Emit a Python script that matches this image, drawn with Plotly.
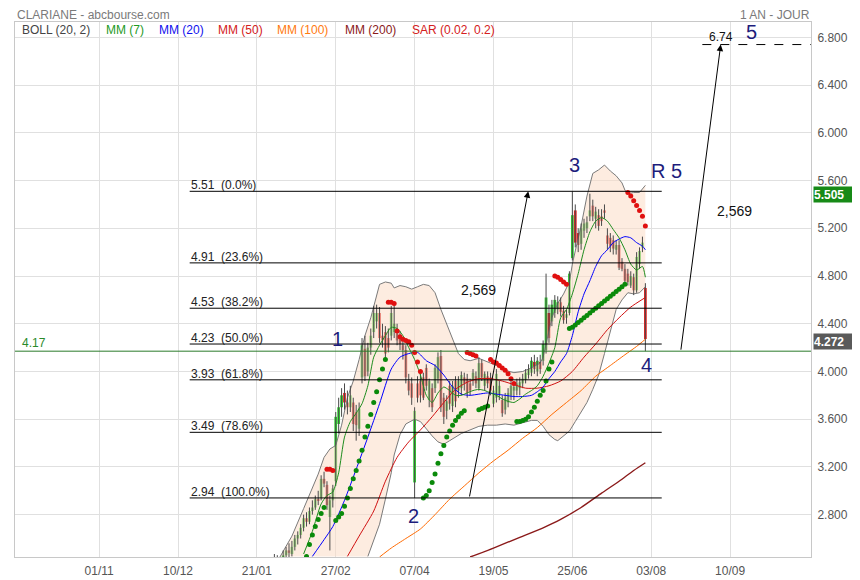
import plotly.graph_objects as go

# ---------------- data (trading-day index, 01/11 = day 0) ----------------
day = list(range(57, 188))

open_ = [2.18, 2.24, 2.30, 2.34, 2.41, 2.38, 2.43, 2.46, 2.50, 2.47,
         2.53, 2.60, 2.63, 2.69, 2.77, 2.74, 2.83, 2.86, 2.93, 2.94,
         3.10, 3.05, 2.78, 2.92, 3.08, 3.56, 3.70, 3.82, 3.74, 3.70,
         3.74, 3.66, 3.52, 3.95, 4.19, 4.00, 4.20, 4.33, 4.42, 4.49,
         4.30, 4.33, 4.28, 4.30, 4.33, 4.32, 4.30, 4.22, 4.18, 3.92,
         3.90, 3.07, 3.90, 3.92, 3.95, 4.03, 3.76, 3.86, 3.86, 3.94,
         4.13, 3.78, 3.67, 3.88, 3.71, 3.92, 3.84, 3.86, 3.95, 3.94,
         3.90, 3.93, 3.96, 3.86, 4.07, 3.88, 3.96, 3.95, 3.73, 3.78,
         3.80, 3.76, 3.68, 3.74, 3.80, 3.84, 3.84, 3.86, 3.90, 3.93,
         3.97, 3.99, 4.08, 4.00, 4.08, 4.09, 4.18, 4.49, 4.42, 4.49,
         4.52, 4.58, 4.51, 4.45, 4.49, 4.95, 5.35, 5.16, 5.07, 5.18,
         5.20, 5.30, 5.39, 5.28, 5.31, 5.30, 5.35, 5.14, 5.12, 5.10,
         5.02, 5.06, 4.92, 4.86, 4.82, 4.72, 4.79, 4.68, 4.90, 5.04, 4.70]

high_ = [2.27, 2.33, 2.38, 2.47, 2.46, 2.45, 2.50, 2.53, 2.56, 2.58,
         2.63, 2.66, 2.72, 2.80, 2.82, 2.86, 2.92, 2.96, 3.00, 3.13,
         3.16, 3.08, 2.96, 3.05, 3.66, 3.78, 3.86, 3.90, 3.84, 3.88,
         3.78, 3.72, 3.74, 4.28, 4.30, 4.24, 4.36, 4.55, 4.56, 4.54,
         4.40, 4.38, 4.36, 4.55, 4.56, 4.40, 4.34, 4.28, 4.22, 3.98,
         3.95, 3.70, 3.96, 4.00, 3.99, 4.06, 3.94, 3.90, 4.06, 4.16,
         4.18, 3.82, 3.80, 3.92, 3.92, 3.96, 3.96, 4.00, 3.99, 3.98,
         3.94, 4.02, 4.00, 4.12, 4.10, 4.00, 4.00, 3.99, 3.88, 4.02,
         3.92, 3.80, 3.82, 3.86, 3.92, 3.89, 3.94, 3.95, 3.98, 4.02,
         4.06, 4.12, 4.14, 4.12, 4.14, 4.26, 4.82, 4.56, 4.60, 4.64,
         4.63, 4.62, 4.55, 4.52, 4.84, 5.51, 5.40, 5.20, 5.24, 5.28,
         5.30, 5.49, 5.44, 5.38, 5.36, 5.36, 5.40, 5.20, 5.16, 5.14,
         5.10, 5.10, 4.95, 4.90, 4.86, 4.84, 4.82, 5.00, 5.04, 5.13, 4.74]

low_ = [2.15, 2.21, 2.26, 2.31, 2.35, 2.34, 2.40, 2.42, 2.44, 2.45,
        2.50, 2.55, 2.60, 2.66, 2.70, 2.72, 2.80, 2.84, 2.88, 2.92,
        3.03, 2.84, 2.50, 2.86, 3.04, 3.48, 3.62, 3.68, 3.64, 3.66,
        3.50, 3.42, 3.46, 3.90, 3.92, 3.96, 4.14, 4.28, 4.36, 4.24,
        4.20, 4.10, 4.16, 4.26, 4.28, 4.22, 4.18, 4.10, 3.90, 3.80,
        3.72, 2.94, 3.74, 3.74, 3.76, 3.84, 3.70, 3.66, 3.82, 3.90,
        3.66, 3.56, 3.60, 3.68, 3.66, 3.70, 3.78, 3.80, 3.84, 3.78,
        3.80, 3.88, 3.86, 3.84, 3.92, 3.84, 3.86, 3.80, 3.70, 3.74,
        3.76, 3.62, 3.64, 3.70, 3.76, 3.76, 3.80, 3.80, 3.86, 3.90,
        3.94, 3.96, 3.98, 3.96, 3.98, 4.05, 4.15, 4.24, 4.38, 4.45,
        4.48, 4.46, 4.40, 4.40, 4.47, 4.93, 5.04, 5.00, 5.02, 5.12,
        5.16, 5.26, 5.26, 5.20, 5.18, 5.22, 5.28, 5.02, 5.00, 4.98,
        4.98, 4.85, 4.84, 4.74, 4.72, 4.70, 4.64, 4.66, 4.86, 5.00, 4.17]

close_ = [2.24, 2.30, 2.34, 2.41, 2.38, 2.43, 2.46, 2.50, 2.48, 2.53,
          2.60, 2.63, 2.69, 2.77, 2.74, 2.83, 2.86, 2.93, 2.92, 3.10,
          3.06, 2.88, 2.92, 3.02, 3.62, 3.70, 3.80, 3.74, 3.70, 3.80,
          3.56, 3.55, 3.69, 4.22, 3.96, 4.20, 4.30, 4.49, 4.49, 4.28,
          4.26, 4.15, 4.20, 4.49, 4.40, 4.26, 4.23, 4.18, 3.95, 3.84,
          3.78, 3.67, 3.78, 3.80, 3.78, 3.88, 3.92, 3.70, 4.03, 4.12,
          3.70, 3.62, 3.75, 3.73, 3.88, 3.75, 3.92, 3.97, 3.90, 3.82,
          3.84, 3.99, 3.90, 4.07, 3.95, 3.98, 3.90, 3.84, 3.84, 3.98,
          3.88, 3.65, 3.78, 3.82, 3.88, 3.87, 3.90, 3.91, 3.94, 3.99,
          4.02, 4.09, 4.02, 4.09, 4.02, 4.23, 4.62, 4.28, 4.56, 4.60,
          4.58, 4.50, 4.43, 4.48, 4.82, 5.31, 5.08, 5.06, 5.20, 5.24,
          5.25, 5.35, 5.30, 5.34, 5.22, 5.26, 5.33, 5.07, 5.05, 5.03,
          5.06, 4.87, 4.86, 4.76, 4.75, 4.80, 4.68, 4.96, 5.01, 5.08, 4.272]

# Parabolic SAR (0.02, 0.2), one value per day (None = off chart)
sar = [None] * 14 + [
    2.45, 2.55, 2.63, 2.70, 2.76, 2.81, 2.86,
    3.18, 3.18, 3.17,
    2.75, 2.78, 2.81, 2.87, 2.94, 3.02, 3.10, 3.17, 3.25, 3.34, 3.45, 3.54,
    3.64, 3.74, 3.83, 3.93, 4.02, 4.10,
    4.58, 4.58, 4.57, 4.34, 4.29, 4.27, 4.26, 4.25, 4.22, 4.16, 4.08, 4.00,
    2.94, 2.96, 3.00, 3.07, 3.14, 3.23, 3.31, 3.38, 3.45, 3.50, 3.55, 3.59,
    3.62, 3.65, 3.67,
    4.16, 4.15, 4.14, 4.13,
    3.68, 3.69, 3.70, 3.71,
    4.10, 4.08, 4.07, 4.05, 4.03, 4.01, 3.98, 3.94, 3.90,
    3.58, 3.58, 3.59, 3.60, 3.62, 3.66, 3.70, 3.75, 3.80, 3.84, 3.92, 4.02, 4.08,
    4.80, 4.79, 4.77, 4.75, 4.73,
    4.36, 4.37, 4.39, 4.41, 4.43, 4.45, 4.47, 4.49, 4.51, 4.53, 4.55, 4.57,
    4.59, 4.61, 4.63, 4.65, 4.67, 4.69, 4.71, 4.73,
    5.50, 5.47, 5.43, 5.39, 5.35, 5.30, 5.22]

# Bollinger (20, 2) bands
boll_up_day = [62, 66, 70, 73, 75, 77, 79, 81, 83, 85, 87, 89, 91, 93, 95, 96, 98, 100,
               101, 103, 105, 107, 109, 111, 113, 115, 117, 119, 121, 123, 125, 127,
               130, 133, 136, 139, 142, 145, 148, 151, 152, 153, 155, 157, 159, 161,
               162, 163, 165, 167, 169, 171, 173, 175, 177, 179, 180, 181, 183, 185, 187]
boll_up = [2.45, 2.62, 2.85, 3.03, 3.14, 3.28, 3.35, 3.38, 3.55, 3.78, 3.92, 4.10, 4.30,
           4.45, 4.64, 4.73, 4.75, 4.74, 4.70, 4.72, 4.71, 4.69, 4.71, 4.73, 4.72, 4.66,
           4.52, 4.40, 4.27, 4.15, 4.10, 4.09, 4.11, 4.08, 4.05, 4.01, 3.99, 4.00, 4.03,
           4.07, 4.12, 4.23, 4.45, 4.57, 4.65, 4.75, 4.90, 5.01, 5.22, 5.47, 5.66, 5.69,
           5.73, 5.68, 5.64, 5.58, 5.52, 5.49, 5.50, 5.50, 5.56]
boll_lo_day = [92, 94, 96, 98, 100, 101, 103, 105, 108, 110, 112, 114, 116, 118, 120,
               122, 124, 126, 128, 130, 133, 136, 139, 142, 145, 148, 150, 152, 154,
               156, 157, 159, 161, 163, 165, 167, 169, 171, 173, 175, 177, 179, 181,
               183, 185, 187]
boll_lo = [2.45, 2.58, 2.72, 2.93, 3.15, 3.30, 3.47, 3.56, 3.60, 3.58, 3.52, 3.46, 3.41,
           3.39, 3.42, 3.45, 3.48, 3.50, 3.52, 3.54, 3.55, 3.55, 3.56, 3.55, 3.57, 3.59,
           3.59, 3.54, 3.47, 3.43, 3.42, 3.46, 3.50, 3.58, 3.66, 3.74, 3.85, 3.97, 4.15,
           4.33, 4.52, 4.60, 4.66, 4.65, 4.66, 4.71]

mm7_day = [70, 73, 76, 78, 80, 82, 84, 86, 88, 90, 92, 94, 96, 98, 100, 102, 104, 106,
           108, 110, 112, 114, 116, 118, 120, 122, 124, 126, 128, 130, 132, 134, 136,
           138, 140, 142, 144, 146, 148, 150, 152, 154, 156, 158, 160, 162, 164, 166,
           168, 170, 172, 174, 176, 178, 180, 182, 184, 186, 187]
mm7 = [2.47, 2.66, 2.89, 2.96, 2.99, 3.15, 3.45, 3.58, 3.65, 3.73, 3.88, 4.12, 4.22,
       4.30, 4.37, 4.36, 4.30, 4.20, 4.10, 3.97, 3.80, 3.74, 3.82, 3.87, 3.84, 3.80,
       3.80, 3.82, 3.84, 3.85, 3.84, 3.82, 3.80, 3.77, 3.75, 3.74, 3.77, 3.81, 3.84,
       3.88, 3.96, 4.07, 4.20, 4.45, 4.52, 4.65, 4.82, 5.02, 5.17, 5.26, 5.29, 5.26,
       5.19, 5.12, 5.02, 4.90, 4.85, 4.88, 4.79]

mm20_day = [73, 77, 80, 84, 88, 92, 96, 100, 103, 106, 109, 112, 115, 118, 121, 124,
            127, 130, 133, 136, 139, 142, 145, 148, 150, 152, 154, 156, 158, 160, 162,
            164, 166, 168, 170, 172, 174, 176, 178, 180, 182, 184, 186, 187]
mm20 = [2.45, 2.59, 2.70, 2.92, 3.18, 3.45, 3.73, 4.02, 4.12, 4.15, 4.16, 4.09, 4.05,
        3.97, 3.87, 3.81, 3.80, 3.81, 3.82, 3.81, 3.80, 3.79, 3.79, 3.80, 3.83, 3.87,
        3.94, 4.00, 4.08, 4.15, 4.30, 4.50, 4.65, 4.76, 4.88, 4.97, 5.02, 5.08, 5.11,
        5.13, 5.12, 5.08, 5.05, 5.02]

mm50_day = [85, 89, 94, 98, 102, 106, 110, 114, 118, 122, 126, 130, 134, 138, 142, 146,
            150, 154, 158, 162, 166, 170, 174, 178, 182, 187]
mm50 = [2.45, 2.62, 2.83, 3.08, 3.28, 3.41, 3.51, 3.62, 3.74, 3.85, 3.91, 3.94, 3.94,
        3.92, 3.89, 3.86, 3.86, 3.88, 3.92, 4.00, 4.12, 4.23, 4.35, 4.45, 4.54, 4.62]

mm100_day = [96, 100, 105, 110, 115, 120, 125, 130, 135, 140, 145, 150, 155, 160, 165,
             170, 175, 180, 184, 187]
mm100 = [2.445, 2.52, 2.60, 2.68, 2.80, 2.93, 3.04, 3.15, 3.25, 3.34, 3.44, 3.53, 3.64,
         3.74, 3.84, 3.96, 4.05, 4.14, 4.21, 4.27]

mm200_day = [127, 135, 144, 152, 158, 165, 172, 178, 183, 187]
mm200 = [2.445, 2.52, 2.61, 2.69, 2.76, 2.86, 2.98, 3.08, 3.17, 3.235]

tick_days = [0, 27, 54, 81, 108, 135, 162, 189, 216]
tick_labels = ["01/11", "10/12", "21/01", "27/02", "07/04", "19/05", "25/06", "03/08", "10/09"]
price_ticks = [2.8, 3.2, 3.6, 4.0, 4.4, 4.8, 5.2, 5.6, 6.0, 6.4, 6.8]

fib_levels = [5.51, 4.91, 4.53, 4.23, 3.93, 3.49, 2.94]
fib_pcts = ["0.0%", "23.6%", "38.2%", "50.0%", "61.8%", "78.6%", "100.0%"]
fib_from_day, fib_to_day = 31, 192.6

support_level = 4.17
target_level = 6.74
last_close = 4.272
marked_high = 5.505
move_text = "2,569"
move1 = (126.7, 2.94, 146.9, 5.51)      # tail day, tail price, head day, head price
move2 = (199.1, 4.17, 212.8, 6.74)

wave_labels = [("1", 81.6, 4.276), ("2", 107.6, 2.79), ("3", 162.9, 5.728),
               ("4", 187.5, 4.057), ("5", 223.4, 6.845), ("R 5", 194.3, 5.678)]

legend_items = [("BOLL (20, 2)", "#444444"), ("MM (7)", "#1e9a1e"), ("MM (20)", "#1010ee"),
                ("MM (50)", "#d42020"), ("MM (100)", "#ff7a10"), ("MM (200)", "#8b1a1a"),
                ("SAR (0.02, 0.2)", "#d42020")]

assert len(open_) == len(high_) == len(low_) == len(close_) == len(sar) == len(day)

# ---------------- layout geometry ----------------
# Targets are picture pixels; the page adds an 8px body margin and the capture is
# slightly compressed vertically, so convert picture pixels to figure pixels.
OFF = 8
SY = 0.985
W, H = 852, 576


def fx(p):
    return p - OFF


def fy(p):
    return p / SY - OFF


X_RANGE = [-28.8, 243.7]
Y_RANGE = [2.445, 6.929]
L, R, T, B = fx(14), fx(811), fy(22), fy(556)
FONT = "Liberation Sans, Arial, sans-serif"


def pxx(p):
    return (fx(p) - L) / (R - L)


def pxy(p):
    return (B - fy(p)) / (B - T)


GREEN = "#2fcf2f"
RED = "#e42222"
NAVY = "#1d1d7c"

fig = go.Figure()

# Bollinger fill + lines
fig.add_trace(go.Scatter(x=boll_lo_day, y=boll_lo, mode="lines",
                         line=dict(color="#7a7a7a", width=1), hoverinfo="skip"))
fig.add_trace(go.Scatter(x=boll_up_day, y=boll_up, mode="lines", fill="tonexty",
                         fillcolor="rgba(251,220,198,0.55)",
                         line=dict(color="#7a7a7a", width=1), hoverinfo="skip"))

# Candles: wicks then bodies
wx, wy = [], []
for d, h, lo in zip(day, high_, low_):
    wx += [d, d, None]
    wy += [lo, h, None]
fig.add_trace(go.Scatter(x=wx, y=wy, mode="lines", line=dict(color="#4a4a4a", width=1),
                         hoverinfo="skip"))
fig.add_trace(go.Bar(x=day, y=[abs(c - o) for o, c in zip(open_, close_)],
                     base=[min(o, c) for o, c in zip(open_, close_)],
                     width=0.95,
                     marker=dict(color=[GREEN if c >= o else RED for o, c in zip(open_, close_)],
                                 line=dict(width=0)),
                     hoverinfo="skip"))

# Moving averages
for xs, ys, col, w in [(mm200_day, mm200, "#8b1a1a", 1.4), (mm100_day, mm100, "#ff6a00", 1),
                       (mm50_day, mm50, "#d01010", 1), (mm20_day, mm20, "#0000ff", 1),
                       (mm7_day, mm7, "#1e8c1e", 1)]:
    fig.add_trace(go.Scatter(x=xs, y=ys, mode="lines",
                             line=dict(color=col, width=w, shape="spline", smoothing=0.6),
                             hoverinfo="skip"))

# SAR dots
sg_x = [d for d, s, c in zip(day, sar, close_) if s is not None and s < c]
sg_y = [s for d, s, c in zip(day, sar, close_) if s is not None and s < c]
sr_x = [d for d, s, c in zip(day, sar, close_) if s is not None and s >= c]
sr_y = [s for d, s, c in zip(day, sar, close_) if s is not None and s >= c]
fig.add_trace(go.Scatter(x=sg_x, y=sg_y, mode="markers",
                         marker=dict(color="#0a8a0a", size=5), hoverinfo="skip"))
fig.add_trace(go.Scatter(x=sr_x, y=sr_y, mode="markers",
                         marker=dict(color="#e01010", size=5), hoverinfo="skip"))

shapes = []
annotations = []

# Fibonacci retracement lines & labels
for lvl, pct in zip(fib_levels, fib_pcts):
    shapes.append(dict(type="line", xref="x", yref="y", x0=fib_from_day, x1=fib_to_day,
                       y0=lvl, y1=lvl, line=dict(color="#000000", width=1)))
    annotations.append(dict(x=fib_from_day, y=lvl, xref="x", yref="y", xanchor="left",
                            yanchor="bottom", showarrow=False, yshift=-2, borderpad=0,
                            text=f"{lvl:.2f}\u00a0\u00a0({pct})",
                            font=dict(size=12, color="#222222", family=FONT)))

# support line 4.17
shapes.append(dict(type="line", xref="paper", yref="y", x0=0, x1=1, y0=support_level,
                   y1=support_level, line=dict(color="#2a7a2a", width=1)))
annotations.append(dict(x=pxx(19), y=support_level, xref="paper", yref="y", xanchor="left",
                        yanchor="bottom", showarrow=False, text=f"{support_level:.2f}",
                        font=dict(size=12, color="#2a8a2a", family=FONT), yshift=-1))

# target dashed line
shapes.append(dict(type="line", xref="x", yref="y", x0=206.5, x1=X_RANGE[1], y0=target_level,
                   y1=target_level, line=dict(color="#000000", width=1, dash="dash")))
annotations.append(dict(x=move2[2], y=target_level, xref="x", yref="y", xanchor="center",
                        yanchor="bottom", showarrow=False, text=f"{target_level:.2f}",
                        yshift=-1, font=dict(size=12, color="#111111", family=FONT)))

# arrows
for tx, ty, hx, hy in [move1, move2]:
    annotations.append(dict(x=hx, y=hy, ax=tx, ay=ty, xref="x", yref="y", axref="x",
                            ayref="y", showarrow=True, arrowhead=2, arrowsize=1.3,
                            arrowwidth=1, arrowcolor="#000000", text="", standoff=0))
annotations.append(dict(x=129.8, y=4.687, xref="x", yref="y", showarrow=False,
                        text=move_text, font=dict(size=14, color="#111111", family=FONT)))
annotations.append(dict(x=217.6, y=5.342, xref="x", yref="y", showarrow=False,
                        text=move_text, font=dict(size=14, color="#111111", family=FONT)))

# wave labels
for t, xd, yv in wave_labels:
    annotations.append(dict(x=xd, y=yv, xref="x", yref="y", showarrow=False, text=t,
                            height=16, borderpad=0,
                            font=dict(size=20, color=NAVY, family=FONT)))

# right-side price boxes
annotations.append(dict(x=1, y=marked_high - 0.022, xref="paper", yref="y", xanchor="left",
                        xshift=2, showarrow=False, text=f"<b>{marked_high:.3f}</b>",
                        bgcolor="#178a17", width=45, height=15, align="left", borderpad=0,
                        font=dict(size=12, color="#ffffff", family=FONT)))
annotations.append(dict(x=1, y=last_close - 0.022, xref="paper", yref="y", xanchor="left",
                        xshift=2, showarrow=False, text=f"<b>{last_close:.3f}</b>",
                        bgcolor="#5a5a5a", width=45, height=15, align="left", borderpad=0,
                        font=dict(size=12, color="#ffffff", family=FONT)))

# header texts (kept just inside the top edge of the figure)
annotations.append(dict(x=pxx(15), y=1, xref="paper", yref="paper", xanchor="left",
                        yanchor="top", yshift=T, showarrow=False,
                        text="CLARIANE - abcbourse.com", borderpad=0, height=12,
                        font=dict(size=12, color="#7a7a7a", family=FONT)))
annotations.append(dict(x=pxx(811), y=1, xref="paper", yref="paper", xanchor="right",
                        yanchor="top", yshift=T, showarrow=False, text="1 AN - JOUR",
                        borderpad=0, height=12, font=dict(size=12, color="#7a7a7a", family=FONT)))

# indicator legend row
legend_x = [19, 103, 156.5, 215, 274.6, 342, 409]
for (t, col), lx in zip(legend_items, legend_x):
    annotations.append(dict(x=pxx(lx), y=pxy(29.5), xref="paper", yref="paper",
                            xanchor="left", yanchor="middle", showarrow=False, text=t,
                            font=dict(size=12, color=col, family=FONT)))

fig.update_layout(
    width=W, height=H, autosize=False,
    margin=dict(l=L, r=W - R, t=T, b=H - B, pad=0),
    paper_bgcolor="#ffffff", plot_bgcolor="#ffffff",
    showlegend=False, barmode="overlay",
    shapes=shapes, annotations=annotations,
    font=dict(family=FONT, size=12, color="#555555"),
    xaxis=dict(range=X_RANGE, tickmode="array", tickvals=tick_days, ticktext=tick_labels,
               showgrid=True, gridcolor="#e0e0e0", gridwidth=1, zeroline=False,
               showline=True, linecolor="#c8c8c8", mirror=True, ticks="",
               ticklabelstandoff=3, tickfont=dict(size=12, color="#555555")),
    yaxis=dict(range=Y_RANGE, side="right", tickmode="array", tickvals=price_ticks,
               tickformat=".3f", showgrid=True, gridcolor="#e0e0e0", gridwidth=1,
               zeroline=False, showline=True, linecolor="#c8c8c8", mirror=True, ticks="",
               ticklabelstandoff=3, tickfont=dict(size=12, color="#555555")),
)

fig.write_html("out.html")
